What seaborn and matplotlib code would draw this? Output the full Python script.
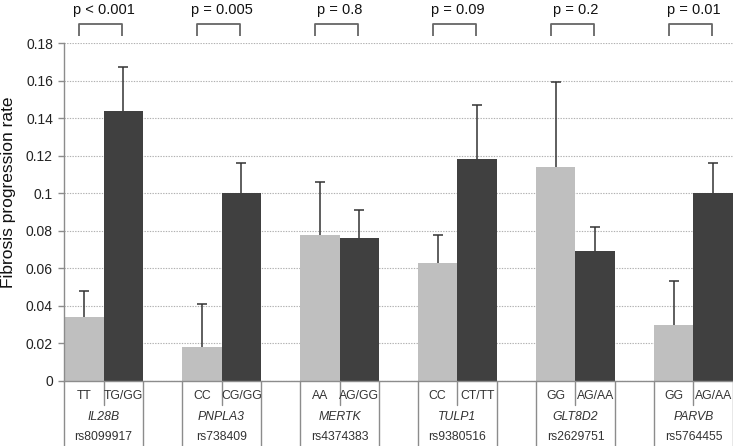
import numpy as np
import pandas as pd
import matplotlib
matplotlib.use("Agg")
import matplotlib.pyplot as plt
import matplotlib.transforms as mtransforms
import seaborn as sns

genes = ["IL28B", "PNPLA3", "MERTK", "TULP1", "GLT8D2", "PARVB"]
snps = ["rs8099917", "rs738409", "rs4374383", "rs9380516", "rs2629751", "rs5764455"]
geno_ref = ["TT", "CC", "AA", "CC", "GG", "GG"]
geno_alt = ["TG/GG", "CG/GG", "AG/GG", "CT/TT", "AG/AA", "AG/AA"]
rate_ref = [0.034, 0.018, 0.078, 0.063, 0.114, 0.030]
rate_alt = [0.144, 0.100, 0.076, 0.118, 0.069, 0.100]
upper_ref = [0.048, 0.041, 0.106, 0.078, 0.159, 0.053]
upper_alt = [0.167, 0.116, 0.091, 0.147, 0.082, 0.116]
p_values = ["p < 0.001", "p = 0.005", "p = 0.8", "p = 0.09", "p = 0.2", "p = 0.01"]
y_ticks = [0, 0.02, 0.04, 0.06, 0.08, 0.1, 0.12, 0.14, 0.16, 0.18]

sns.set_style("white")
plt.rcParams["font.family"] = ["Liberation Sans", "DejaVu Sans"]

df = pd.DataFrame({
    "gene": genes * 2,
    "group": ["ref"] * len(genes) + ["alt"] * len(genes),
    "rate": rate_ref + rate_alt,
    "upper": upper_ref + upper_alt,
})

W, H = 733, 446
fig = plt.figure(figsize=(W / 100, H / 100), dpi=100)
ax = fig.add_axes([64 / W, 65 / H, 669 / W, 338 / H])

sns.barplot(data=df, x="gene", y="rate", hue="group", hue_order=["ref", "alt"],
            palette=["#bfbfbf", "#404040"], width=0.67, gap=0, errorbar=None,
            legend=False, saturation=1, edgecolor="none", linewidth=0, ax=ax)

ax.set_xlim(-0.335, 5.335)
ax.set_ylim(0, 0.18)
ax.set_yticks(y_ticks)
ax.set_yticklabels([f"{v:g}" for v in y_ticks], fontsize=10, color="#222222")
ax.set_xticks([])
ax.set_xlabel("")
ax.set_ylabel("Fibrosis progression rate", fontsize=12.5, color="#111111", va="center")
ax.yaxis.set_label_coords(-0.083, 0.559)
ax.yaxis.grid(True, linestyle=(0, (1.2, 1.2)), color="#b0b0b0", linewidth=0.8)
ax.set_axisbelow(True)
for s in ["top", "right"]:
    ax.spines[s].set_visible(False)
for s in ["left", "bottom"]:
    ax.spines[s].set_color("#8c8c8c")
    ax.spines[s].set_linewidth(1.0)
ax.tick_params(axis="y", which="major", left=True, length=4, width=1, color="#8c8c8c", pad=4)

# bars by hue: first len(genes) patches are ref, next are alt
patches = list(ax.patches)
ref_p = sorted(patches[:len(genes)], key=lambda p: p.get_x())
alt_p = sorted(patches[len(genes):], key=lambda p: p.get_x())

xc_ref = [p.get_x() + p.get_width() / 2 for p in ref_p]
xc_alt = [p.get_x() + p.get_width() / 2 for p in alt_p]

# error bars (upper only)
for xs, ys, ups in [(xc_ref, rate_ref, upper_ref), (xc_alt, rate_alt, upper_alt)]:
    err = np.array(ups) - np.array(ys)
    eb = ax.errorbar(xs, ys, yerr=[np.zeros_like(err), err], fmt="none",
                     ecolor="#333333", elinewidth=1.1, capsize=3.5, capthick=1.1, zorder=5)
    caplines = eb[1]
    if len(caplines) >= 1:
        caplines[0].set_visible(False)

# p-value brackets
for i, g in enumerate(genes):
    c = (ref_p[i].get_x() + alt_p[i].get_x() + alt_p[i].get_width()) / 2
    x0, x1 = c - 0.21, c + 0.16
    y0, y1 = 0.1837, 0.190
    ax.plot([x0, x0, x1, x1], [y0, y1, y1, y0], color="#666666", lw=1.3,
            clip_on=False, solid_capstyle="butt")
    ax.text(c, 0.1977, p_values[i], ha="center", va="center", fontsize=10.5,
            color="#111111", clip_on=False)

# table beneath the axis
trans = mtransforms.blended_transform_factory(ax.transData, fig.transFigure)
def fy(px):
    return 1 - px / H

line_kw = dict(color="#8c8c8c", lw=1.0, clip_on=False, transform=trans)
for i in range(len(genes)):
    L = ref_p[i].get_x()
    M = alt_p[i].get_x()
    R = alt_p[i].get_x() + alt_p[i].get_width()
    c = (L + R) / 2
    ax.plot([L, L], [fy(381), fy(446)], **line_kw)
    ax.plot([R, R], [fy(381), fy(446)], **line_kw)
    ax.plot([M, M], [fy(381), fy(405)], **line_kw)
    ax.text(xc_ref[i], fy(396), geno_ref[i], transform=trans, ha="center", va="center",
            fontsize=8.8, color="#333333")
    ax.text(xc_alt[i], fy(396), geno_alt[i], transform=trans, ha="center", va="center",
            fontsize=8.8, color="#333333")
    ax.text(c, fy(417), genes[i], transform=trans, ha="center", va="center",
            fontsize=8.8, style="italic", color="#333333")
    ax.text(c, fy(437), snps[i], transform=trans, ha="center", va="center",
            fontsize=8.8, color="#333333")

fig.savefig("out.png", dpi=100)
